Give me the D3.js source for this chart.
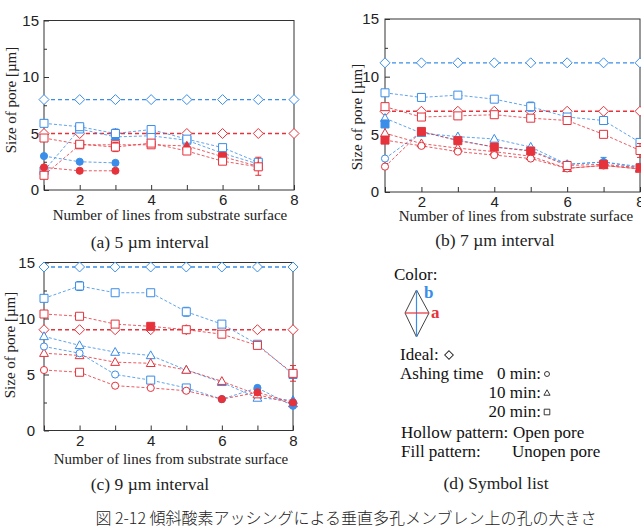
<!DOCTYPE html>
<html lang="ja">
<head>
<meta charset="UTF-8">
<title>傾斜酸素アッシングによる孔の大きさ</title>
<script src="https://d3js.org/d3.v7.min.js"></script>
<style>
  body { margin: 0; background: #fff; }
  svg { display: block; font-family: "Liberation Serif", "Times New Roman", serif; }
  .tick text { font-size: 15px; fill: #222; }
  .tick line { stroke: #333; }
  .frame { fill: none; stroke: #333; stroke-width: 1; }
  .axis-title { font-size: 15px; fill: #222; }
  .caption { font-size: 17.5px; fill: #222; }
  .legend { font-size: 17px; fill: #111; }
  .fig-caption { font-family: "Noto Sans CJK JP", sans-serif; font-size: 16px; font-weight: 300; fill: #222; }
</style>
</head>
<body>
<svg width="641" height="530"></svg>
<script>
// x = line number from substrate surface, y = pore size [um]
const lineNo = [1, 2, 3, 4, 5, 6, 7, 8];
const xTickLabels = [2, 4, 6, 8];
const yTickLabels = [0, 5, 10, 15];

// marker codes: c circle, t triangle, s square, d diamond; upper case = filled (unopen pore)
// (a) 5 um interval
const a5_ideal_b = [8, 8, 8, 8, 8, 8, 8, 8];
const a5_ideal_a = [5, 5, 5, 5, 5, 5, 5, 5];
const a5_20_b = [5.9, 5.6, 5.0, 5.35, 4.5, 3.75, 2.45];
const a5_20_b_mk = "sssssss";
const a5_20_b_err = [0.2, 0.3, 0.4, 0.2, 0, 0.2, 0.2];
const a5_10_b = [1.7, 5.4, 4.7, 4.8, 4.4, 3.25, 2.3];
const a5_10_b_mk = "ssTssTs";
const a5_20_a = [4.6, 4.05, 3.8, 4.15, 3.45, 2.55, 2.05];
const a5_20_a_mk = "sssssss";
const a5_20_a_err = [0.2, 0.2, 0.4, 0.3, 0, 0.2, 0.3];
const a5_10_a = [1.3, 4.0, 4.0, 4.0, 3.9, 2.95, 2.1];
const a5_10_a_mk = "ssssTST";
const a5_10_a_err = [0, 0, 0, 0, 0, 0, 0.8];
const a5_0_b = [3.0, 2.5, 2.4];
const a5_0_b_mk = "CCC";
const a5_0_a = [2.0, 1.7, 1.7];
const a5_0_a_mk = "CCC";

// (b) 7 um interval
const b7_ideal_b = [11.2, 11.2, 11.2, 11.2, 11.2, 11.2, 11.2, 11.2];
const b7_ideal_a = [7.0, 7.0, 7.0, 7.0, 7.0, 7.0, 7.0, 7.0];
const b7_20_b = [8.6, 8.2, 8.4, 8.05, 7.4, 6.5, 6.2, 4.3];
const b7_20_b_mk = "ssssssss";
const b7_20_b_err = [0, 0, 0, 0, 0.4, 0.2, 0.3, 0];
const b7_20_a = [7.4, 6.5, 6.6, 6.7, 6.4, 6.2, 5.0, 3.6];
const b7_20_a_mk = "ssssssss";
const b7_20_a_err = [0.2, 0, 0, 0, 0, 0, 0, 0.6];
const b7_10_b = [6.4, 5.1, 4.8, 4.6, 3.9, 2.4, 2.6, 2.1];
const b7_10_b_mk = "ttttttTT";
const b7_10_b_err = [0, 0, 0, 0, 0, 0, 0.4, 0];
const b7_10_a = [5.1, 4.2, 3.8, 3.5, 3.1, 2.05, 2.3, 2.0];
const b7_10_a_mk = "tttttttt";
const b7_0_b = [2.9, 5.2, 4.5, 3.9, 3.6, 2.4, 2.6, 2.2];
const b7_0_b_mk = "ccccccCC";
const b7_0_a = [2.2, 5.25, 4.45, 3.9, 3.55, 2.3, 2.4, 2.1];
const b7_0_a_mk = "cSSSSsSS";
const b7_u_a = [4.5, 4.0, 3.5, 3.2, 2.9, 2.05, 2.3, 2.0];
const b7_u_a_mk = "Scccccct";
const b7_u_b = [5.9];
const b7_u_b_mk = "S";

// (c) 9 um interval
const c9_ideal_b = [14.6, 14.6, 14.6, 14.6, 14.6, 14.6, 14.6, 14.6];
const c9_ideal_a = [9.0, 9.0, 9.0, 9.0, 9.0, 9.0, 9.0, 9.0];
const c9_20_b = [11.8, 12.9, 12.3, 12.3, 10.6, 9.5, 7.7, 5.0];
const c9_20_b_mk = "ssssssss";
const c9_20_b_err = [0, 0.4, 0, 0, 0.4, 0, 0.2, 0];
const c9_20_a = [10.4, 10.2, 9.5, 9.3, 9.0, 8.6, 7.6, 5.1];
const c9_20_a_mk = "sssSssss";
const c9_20_a_err = [0.2, 0, 0.2, 0, 0, 0.3, 0, 0.7];
const c9_10_b = [8.4, 7.6, 7.0, 6.7, 5.4, 4.3, 2.9, 2.7];
const c9_10_b_mk = "tttttttT";
const c9_10_a = [6.9, 6.7, 6.1, 6.0, 5.4, 4.4, 3.2, 2.4];
const c9_10_a_mk = "tttttttT";
const c9_0_b = [7.5, 6.9, 5.0, 4.5, 3.8, 2.8, 3.8, 2.2];
const c9_0_b_mk = "cccssCCC";
const c9_0_b_err = [0, 0, 0, 0.3, 0.3, 0, 0, 0];
const c9_0_a = [5.4, 5.2, 4.0, 3.8, 3.55, 2.8, 3.4, 2.5];
const c9_0_a_mk = "cscccCCC";

const COL = { a: "#e5323b", b: "#3a8de8" };

const svg = d3.select("svg");

// series table built from the arrays above
function s(color, values, mk, err) {
    return { color, values, mk, err: err || [] };
}

const panels = [
    {
        caption: "(a) 5 µm interval", capX: 150, capY: 248,
        x0: 44, x1: 294, y0: 190, y1: 20.5, yLabelX: 11, yLabelY: 100, yPad: 5, xPad: 4,
        xTitleX: 170, xTitleY: 220,
        series: [
            s("b", a5_ideal_b, "dddddddd"), s("a", a5_ideal_a, "dddddddd"),
            s("b", a5_10_b, a5_10_b_mk), s("b", a5_20_b, a5_20_b_mk, a5_20_b_err),
            s("a", a5_10_a, a5_10_a_mk, a5_10_a_err), s("a", a5_20_a, a5_20_a_mk, a5_20_a_err),
            s("b", a5_0_b, a5_0_b_mk), s("a", a5_0_a, a5_0_a_mk)
        ]
    },
    {
        caption: "(b) 7 µm interval", capX: 495, capY: 246,
        x0: 385, x1: 640, y0: 192, y1: 19, yLabelX: 357, yLabelY: 117, yPad: 6, xPad: 4,
        xTitleX: 516, xTitleY: 221,
        series: [
            s("b", b7_ideal_b, "dddddddd"), s("a", b7_ideal_a, "dddddddd"),
            s("b", b7_20_b, b7_20_b_mk, b7_20_b_err), s("a", b7_20_a, b7_20_a_mk, b7_20_a_err),
            s("b", b7_10_b, b7_10_b_mk, b7_10_b_err), s("a", b7_10_a, b7_10_a_mk),
            s("b", b7_0_b, b7_0_b_mk), s("a", b7_u_a, b7_u_a_mk), s("a", b7_0_a, b7_0_a_mk),
            s("b", b7_u_b, b7_u_b_mk)
        ]
    },
    {
        caption: "(c) 9 µm interval", capX: 150, capY: 490,
        x0: 44, x1: 293, y0: 430.5, y1: 262.5, yLabelX: 10, yLabelY: 345, yPad: 9, xPad: 5,
        xTitleX: 171, xTitleY: 464,
        series: [
            s("b", c9_ideal_b, "dddddddd"), s("a", c9_ideal_a, "dddddddd"),
            s("b", c9_20_b, c9_20_b_mk, c9_20_b_err), s("a", c9_20_a, c9_20_a_mk, c9_20_a_err),
            s("b", c9_10_b, c9_10_b_mk), s("a", c9_10_a, c9_10_a_mk),
            s("b", c9_0_b, c9_0_b_mk, c9_0_b_err), s("a", c9_0_a, c9_0_a_mk)
        ]
    }
];

// marker path around (0,0)
function markerPath(type) {
    switch (type.toLowerCase()) {
        case "c": return d3.symbol(d3.symbolCircle, 40)();
        case "t": return "M0,-4.6L4.4,3.2L-4.4,3.2Z";
        case "s": return "M-4,-4H4V4H-4Z";
        default: return "M0,-5L5,0L0,5L-5,0Z";
    }
}

panels.forEach(p => {
    const x = d3.scaleLinear().domain([1, 8]).range([p.x0, p.x1]);
    const y = d3.scaleLinear().domain([0, 15]).range([p.y0, p.y1]);
    const g = svg.append("g");

    // inward ticks
    g.append("g").attr("transform", `translate(0,${p.y0})`)
        .call(d3.axisBottom(x).tickValues(lineNo).tickSize(-5).tickPadding(p.xPad)
            .tickFormat(d => xTickLabels.includes(d) ? d : ""))
        .call(a => a.select(".domain").remove());
    g.append("g").attr("transform", `translate(${p.x0},0)`)
        .call(d3.axisLeft(y).tickValues(yTickLabels).tickSize(-5).tickPadding(p.yPad))
        .call(a => a.select(".domain").remove());
    g.append("g").attr("transform", `translate(${p.x0},0)`)
        .call(d3.axisLeft(y).tickValues([2.5, 7.5, 12.5]).tickSize(-3).tickFormat(""))
        .call(a => a.select(".domain").remove());

    g.append("rect").attr("class", "frame")
        .attr("x", p.x0).attr("y", p.y1)
        .attr("width", p.x1 - p.x0).attr("height", p.y0 - p.y1);

    const line = d3.line().x((d, i) => x(lineNo[i])).y(d => y(d));

    p.series.forEach(ser => {
        const c = COL[ser.color];
        const ideal = ser.mk[0] === "d";
        g.append("path").datum(ser.values)
            .attr("d", line)
            .attr("fill", "none")
            .attr("stroke", c)
            .attr("stroke-opacity", ideal ? 1 : 0.8)
            .attr("stroke-width", ideal ? 1.4 : 1)
            .attr("stroke-dasharray", ideal ? "4,3" : "3,2");

        ser.values.forEach((v, i) => {
            const e = ser.err[i] || 0;
            if (e > 0) {
                const cx = x(lineNo[i]);
                g.append("path")
                    .attr("d", `M${cx},${y(v - e)}V${y(v + e)}M${cx - 3},${y(v - e)}h6M${cx - 3},${y(v + e)}h6`)
                    .attr("stroke", c).attr("stroke-width", 1).attr("fill", "none");
            }
        });

        g.selectAll(null).data(ser.values).join("path")
            .attr("transform", (d, i) => `translate(${x(lineNo[i])},${y(d)})`)
            .attr("d", (d, i) => markerPath(ser.mk[i]))
            .attr("fill", (d, i) => ser.mk[i] === ser.mk[i].toUpperCase() ? c : "#fff")
            .attr("stroke", c)
            .attr("stroke-width", 1);
    });

    g.append("text").attr("class", "axis-title")
        .attr("transform", `translate(${p.yLabelX},${p.yLabelY}) rotate(-90)`)
        .attr("text-anchor", "middle").attr("dy", "0.35em")
        .text("Size of pore [µm]");
    g.append("text").attr("class", "axis-title")
        .attr("x", p.xTitleX).attr("y", p.xTitleY).attr("text-anchor", "middle")
        .text("Number of lines from substrate surface");
    svg.append("text").attr("class", "caption")
        .attr("x", p.capX).attr("y", p.capY).attr("text-anchor", "middle")
        .text(p.caption);
});

// (d) symbol list
const lg = svg.append("g").attr("class", "legend");
lg.append("text").attr("x", 394).attr("y", 280).text("Color:");
lg.append("path").attr("d", "M416.5,290L429,313L416.5,337L405,313Z")
    .attr("fill", "none").attr("stroke", "#444").attr("stroke-width", 1);
lg.append("line").attr("x1", 416.5).attr("x2", 416.5).attr("y1", 290).attr("y2", 337)
    .attr("stroke", COL.b).attr("stroke-width", 1.2);
lg.append("line").attr("x1", 405).attr("x2", 429).attr("y1", 313).attr("y2", 313)
    .attr("stroke", COL.a).attr("stroke-width", 1.2);
lg.append("text").attr("x", 424).attr("y", 298).attr("fill", COL.b)
    .attr("font-weight", "bold").text("b");
lg.append("text").attr("x", 431).attr("y", 318).attr("fill", COL.a)
    .attr("font-weight", "bold").text("a");

lg.append("text").attr("x", 400).attr("y", 360).text("Ideal:");
lg.append("text").attr("x", 400).attr("y", 379).text("Ashing time");
const legendRows = [["0 min:", 379, "c"], ["10 min:", 398, "t"], ["20 min:", 417, "s"]];
legendRows.forEach(r => {
    lg.append("text").attr("x", 541).attr("y", r[1]).attr("text-anchor", "end").text(r[0]);
    lg.append("path").attr("transform", `translate(547,${r[1] - 5}) scale(0.7)`)
        .attr("d", markerPath(r[2])).attr("fill", "none").attr("stroke", "#222").attr("stroke-width", 1.3);
});
lg.append("path").attr("transform", "translate(449,355) scale(0.85)")
    .attr("d", markerPath("d")).attr("fill", "none").attr("stroke", "#222").attr("stroke-width", 1.2);
lg.append("text").attr("x", 401).attr("y", 438).text("Hollow pattern:");
lg.append("text").attr("x", 513).attr("y", 438).text("Open pore");
lg.append("text").attr("x", 401).attr("y", 457).text("Fill pattern:");
lg.append("text").attr("x", 512).attr("y", 457).text("Unopen pore");
svg.append("text").attr("class", "caption").attr("x", 496).attr("y", 489)
    .attr("text-anchor", "middle").text("(d) Symbol list");

svg.append("text").attr("class", "fig-caption")
    .attr("x", 346).attr("y", 524).attr("text-anchor", "middle")
    .text("図 2-12 傾斜酸素アッシングによる垂直多孔メンブレン上の孔の大きさ");
</script>
</body>
</html>
